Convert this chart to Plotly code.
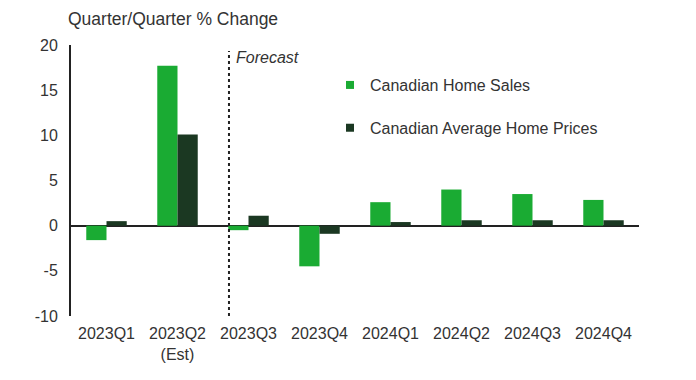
import plotly.graph_objects as go

categories = ["2023Q1", "2023Q2<br>(Est)", "2023Q3", "2023Q4", "2024Q1", "2024Q2", "2024Q3", "2024Q4"]
home_sales = [-1.6, 17.7, -0.5, -4.5, 2.6, 4.0, 3.5, 2.85]
home_prices = [0.5, 10.1, 1.1, -0.9, 0.4, 0.6, 0.6, 0.6]
y_ticks = [-10, -5, 0, 5, 10, 15, 20]
y_tick_labels = ["-10", "-5", "0", "5", "10", "15", "20"]
series_names = ["Canadian Home Sales", "Canadian Average Home Prices"]

GREEN = "#1aab33"
DARK = "#1b3822"
TEXT = "#333333"
FONT = "Liberation Sans, Arial, sans-serif"

fig = go.Figure()
fig.add_trace(go.Bar(x=categories, y=home_sales, name=series_names[0],
                     marker=dict(color=GREEN, line=dict(width=0)), showlegend=False))
fig.add_trace(go.Bar(x=categories, y=home_prices, name=series_names[1],
                     marker=dict(color=DARK, line=dict(width=0)), showlegend=False))
# legend-only entries with small square symbols
for nm, col, grp in [(series_names[0], GREEN, "a"), (series_names[1], DARK, "b")]:
    fig.add_trace(go.Scatter(x=[None], y=[None], mode="markers", name=nm,
                             marker=dict(symbol="square", size=8, color=col),
                             legendgroup=grp, showlegend=True))

fig.update_layout(
    width=680, height=364,
    margin=dict(l=63, r=49, t=37, b=56),
    plot_bgcolor="white", paper_bgcolor="white",
    font=dict(family=FONT, size=16, color=TEXT),
    barmode="group", bargap=0.43, bargroupgap=0,
    showlegend=True,
    legend=dict(x=0.456, y=0.915, xanchor="left", yanchor="top",
                font=dict(size=16, color=TEXT),
                traceorder="grouped", tracegroupgap=19, itemwidth=30,
                bgcolor="rgba(0,0,0,0)"),
    xaxis=dict(type="category", range=[-0.5, 7.5], showgrid=False, showline=False,
               automargin=False,
               ticks="", ticklabelstandoff=6, tickfont=dict(size=16, color=TEXT), zeroline=False),
    yaxis=dict(range=[-10, 20], tickvals=y_ticks, ticktext=y_tick_labels, showgrid=False,
               automargin=False,
               showline=True, linecolor="#222222", linewidth=2,
               zeroline=True, zerolinecolor="#222222", zerolinewidth=2,
               ticks="", ticklabelstandoff=8, tickfont=dict(size=16, color=TEXT)),
)

fig.add_shape(type="line", xref="x", yref="paper", x0=1.725, x1=1.725, y0=0, y1=0.978,
              line=dict(color="#222222", width=2, dash="dot"))
fig.add_annotation(xref="x", yref="paper", x=1.725, y=1.0, xshift=5, yshift=-12,
                   xanchor="left", yanchor="middle",
                   text="<i>Forecast</i>", showarrow=False,
                   font=dict(size=16, color=TEXT))
fig.add_annotation(xref="paper", yref="paper", x=0, y=1.0, xshift=-5, yshift=26,
                   xanchor="left", yanchor="middle",
                   text="Quarter/Quarter % Change", showarrow=False,
                   font=dict(size=17.5, color=TEXT))

fig.write_html("out.html")
